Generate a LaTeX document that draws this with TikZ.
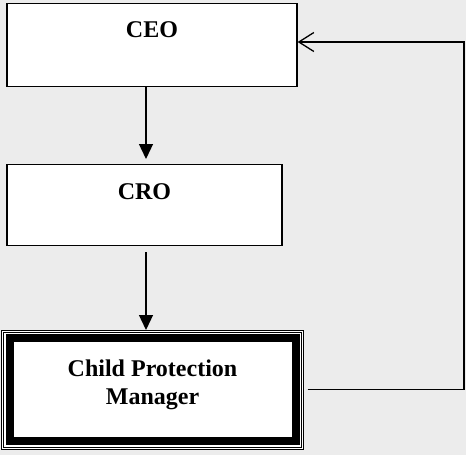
\documentclass[tikz,border=0pt]{standalone}
\usepackage{fontspec}
\setmainfont{Liberation Serif}
\usetikzlibrary{arrows.meta}
\definecolor{bggray}{RGB}{236,236,236}

\begin{document}
\begin{tikzpicture}[x=1pt, y=-1pt, >={Triangle[length=15pt, width=14pt]},
        every node/.style={rectangle, fill=white, align=center, inner xsep=0pt, inner ysep=0pt,
            font=\bfseries\fontsize{24}{28}\selectfont},
        role/.style={draw, line width=1.3pt, anchor=north},
        head/.style={role, line width=0.9pt, outer sep=0pt}]
            \useasboundingbox[fill=bggray] (0,0) rectangle (466,455);
            \coordinate (spine) at (146,0);
            \coordinate (turn) at (464,42);

            % Nodes
            \node[role, minimum width=290pt, text height=33.5pt, text depth=49.5pt] at (152,3) (ceo) {CEO};
            \node[role, minimum width=275pt, text height=35pt, text depth=46pt] at (144.5,164) (cro) {CRO};
            \node[head, minimum width=302pt, text height=74pt, text depth=45pt] at (152.5,330) (cpm) {Child Protection\\Manager};
            \draw[line width=0.9pt] ([shift={(2,2)}]cpm.north west) rectangle ([shift={(-2,-2)}]cpm.south east);
            \draw[line width=8pt] ([shift={(8,8)}]cpm.north west) rectangle ([shift={(-8,-8)}]cpm.south east);

            % Edges
            \draw[->, line width=1.3pt] (ceo.south -| spine) -- ([yshift=5pt]cro.north -| spine);
            \draw[->, line width=1.3pt] ([yshift=-6pt]cro.south -| spine) -- (cpm.north -| spine);
            \draw[-{Straight Barb[length=15pt, width=19pt]}, line width=1.3pt]
                ([xshift=4pt]cpm.east) -| (turn) -- (ceo.east |- turn);
\end{tikzpicture}
\end{document}
